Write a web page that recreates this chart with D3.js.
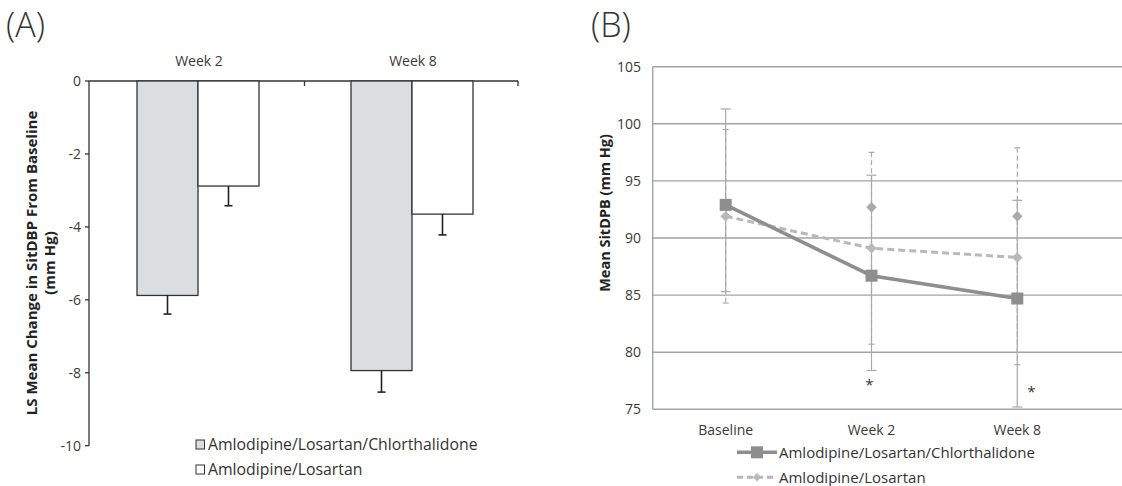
<!DOCTYPE html>
<html>
<head>
<meta charset="utf-8">
<script src="https://cdn.jsdelivr.net/npm/d3@7"></script>
<style>
    body { margin: 0; background: #fff; }
    svg { display: block; font-family: "Open Sans", "Lato", sans-serif; }
    .tick-label { font-size: 14px; fill: #3a3a3a; }
    .axis-title { font-size: 15px; font-weight: bold; fill: #222; }
    .legend-text { font-size: 15px; fill: #333; }
</style>
</head>
<body>
<div id="chart"></div>
<script>

// Panel A data: LS mean change in SitDBP
const barCategories = ["Week 2", "Week 8"];
const barSeries = ["Amlodipine/Losartan/Chlorthalidone", "Amlodipine/Losartan"];
const barMeanALC = [-5.88, -7.94];
const barErrALC = [0.51, 0.59];
const barMeanAL = [-2.88, -3.65];
const barErrAL = [0.54, 0.57];
const barTicks = [0, -2, -4, -6, -8, -10];

// Panel B data: mean SitDBP over time
const lineCategories = ["Baseline", "Week 2", "Week 8"];
const lineSeries = ["Amlodipine/Losartan/Chlorthalidone", "Amlodipine/Losartan"];
const meanALC = [92.9, 86.7, 84.7];
const lowALC = [85.3, 78.4, 75.2];
const highALC = [101.3, 95.5, 93.3];
const meanAL = [91.9, 89.1, 88.3];
const lowAL = [84.3, 80.7, 78.9];
const highAL = [99.5, 97.5, 97.9];
const strayAL = [null, 92.7, 91.9];   // extra diamond markers in the original
const starCategories = ["Week 2", "Week 8"];
const starValues = [77.6, 77.0];
const lineTicks = [75, 80, 85, 90, 95, 100, 105];

const svg = d3.select("#chart").append("svg")
    .attr("width", 1122)
    .attr("height", 486);

drawBarPanel();
drawLinePanel();


/* * * * * * * * * * * * * *
*       Panel A            *
* * * * * * * * * * * * * */

function drawBarPanel() {
    let g = svg.append("g");
    let axisColor = "#333";

    g.append("text").attr("x", 6).attr("y", 37)
        .style("font-size", "34px").style("font-weight", 300).attr("fill", "#333")
        .text("(A)");

    let y = d3.scaleLinear().domain([-10, 0]).range([445.7, 81]);
    let x0 = d3.scaleBand().domain(barCategories).range([91, 519])
        .paddingInner(0.43).paddingOuter(0.215);
    let x1 = d3.scaleBand().domain(barSeries).range([0, x0.bandwidth()]);

    // axes lines
    g.append("line").attr("x1", 89).attr("x2", 89).attr("y1", y(0)).attr("y2", y(-10))
        .attr("stroke", axisColor).attr("stroke-width", 1.3);
    g.append("line").attr("x1", 89).attr("x2", 518).attr("y1", y(0)).attr("y2", y(0))
        .attr("stroke", axisColor).attr("stroke-width", 1.3);

    // category separators on the top axis
    let sepX = [x0.range()[0] + x0.step() - 0.5, x0.range()[1] - 1];
    sepX.forEach(sx => {
        g.append("line").attr("x1", sx).attr("x2", sx).attr("y1", y(0)).attr("y2", y(0) + 5)
            .attr("stroke", axisColor).attr("stroke-width", 1.3);
    });

    barTicks.forEach(t => {
        g.append("line").attr("x1", 85).attr("x2", 89).attr("y1", y(t)).attr("y2", y(t))
            .attr("stroke", axisColor).attr("stroke-width", 1.3);
        g.append("text").attr("class", "tick-label")
            .attr("x", 81).attr("y", y(t)).attr("dy", "0.35em")
            .attr("text-anchor", "end").text(t);
    });

    barCategories.forEach(c => {
        g.append("text").attr("class", "tick-label")
            .attr("x", x0(c) + x0.bandwidth() / 2 + 1).attr("y", 66)
            .attr("text-anchor", "middle").text(c);
    });

    let bars = [
        {series: barSeries[0], means: barMeanALC, errs: barErrALC, fill: "#dcdddf"},
        {series: barSeries[1], means: barMeanAL, errs: barErrAL, fill: "#ffffff"}
    ];

    bars.forEach(s => {
        barCategories.forEach((c, i) => {
            let bx = x0(c) + x1(s.series);
            let cx = bx + x1.bandwidth() / 2;
            g.append("rect")
                .attr("x", bx).attr("y", y(0))
                .attr("width", x1.bandwidth()).attr("height", y(s.means[i]) - y(0))
                .attr("fill", s.fill).attr("stroke", axisColor).attr("stroke-width", 1.3);
            let lo = s.means[i] - s.errs[i];
            g.append("line").attr("x1", cx).attr("x2", cx)
                .attr("y1", y(s.means[i])).attr("y2", y(lo))
                .attr("stroke", "#222").attr("stroke-width", 1.6);
            g.append("line").attr("x1", cx - 4).attr("x2", cx + 4)
                .attr("y1", y(lo)).attr("y2", y(lo))
                .attr("stroke", "#222").attr("stroke-width", 1.6);
        });
    });

    // y axis title
    g.append("text").attr("class", "axis-title")
        .attr("transform", "translate(32,263) rotate(-90)")
        .attr("text-anchor", "middle").attr("dy", "0.35em")
        .text("LS Mean Change in SitDBP From Baseline");
    g.append("text").attr("class", "axis-title")
        .attr("transform", "translate(50,263) rotate(-90)")
        .attr("text-anchor", "middle").attr("dy", "0.35em")
        .text("(mm Hg)");

    // legend
    let leg = g.append("g").attr("transform", "translate(196,440)");
    bars.forEach((s, i) => {
        leg.append("rect").attr("x", 0).attr("y", i * 25)
            .attr("width", 8.5).attr("height", 9)
            .attr("fill", s.fill).attr("stroke", "#333").attr("stroke-width", 1);
        leg.append("text").attr("class", "legend-text")
            .style("font-size", "15.8px")
            .attr("x", 12).attr("y", i * 25 + 10).text(s.series);
    });
}


/* * * * * * * * * * * * * *
*       Panel B            *
* * * * * * * * * * * * * */

function drawLinePanel() {
    let g = svg.append("g");
    let left = 652.7, right = 1122;
    let gridColor = "#a3a3a3";

    g.append("text").attr("x", 591).attr("y", 37)
        .style("font-size", "34px").style("font-weight", 300).attr("fill", "#333")
        .text("(B)");

    let y = d3.scaleLinear().domain([75, 105]).range([409.3, 66.7]);
    let x = d3.scalePoint().domain(lineCategories).range([725.7, 1017.3]);

    // gridlines and frame
    lineTicks.forEach(t => {
        g.append("line").attr("x1", left).attr("x2", right).attr("y1", y(t)).attr("y2", y(t))
            .attr("stroke", gridColor).attr("stroke-width", 1.4);
        g.append("text").attr("class", "tick-label")
            .attr("x", 641).attr("y", y(t)).attr("dy", "0.35em")
            .attr("text-anchor", "end").text(t);
    });
    g.append("line").attr("x1", left).attr("x2", left).attr("y1", y(105)).attr("y2", y(75))
        .attr("stroke", gridColor).attr("stroke-width", 1.4);

    lineCategories.forEach(c => {
        g.append("text").attr("class", "tick-label")
            .attr("x", x(c)).attr("y", 435)
            .attr("text-anchor", "middle").text(c);
    });

    let series = [
        {name: lineSeries[1], mean: meanAL, low: lowAL, high: highAL,
            color: "#b9b9b9", dash: "7,4", width: 3, capW: 3, marker: "diamond"},
        {name: lineSeries[0], mean: meanALC, low: lowALC, high: highALC,
            color: "#8e8e8f", dash: null, width: 3.6, capW: 5, marker: "square"}
    ];

    // error bars
    series.forEach(s => {
        lineCategories.forEach((c, i) => {
            let cx = x(c);
            g.append("line").attr("x1", cx).attr("x2", cx)
                .attr("y1", y(s.high[i])).attr("y2", y(s.low[i]))
                .attr("stroke", "#a9a9a9").attr("stroke-width", 1.2)
                .attr("stroke-dasharray", s.dash ? "5,3" : null);
            [s.high[i], s.low[i]].forEach(v => {
                g.append("line").attr("x1", cx - s.capW).attr("x2", cx + s.capW)
                    .attr("y1", y(v)).attr("y2", y(v))
                    .attr("stroke", "#a9a9a9").attr("stroke-width", 1.2);
            });
        });
    });

    let line = d3.line()
        .x((d, i) => x(lineCategories[i]))
        .y(d => y(d));

    let diamond = d3.symbol().type(d3.symbolDiamond2).size(70);

    series.forEach(s => {
        g.append("path").datum(s.mean)
            .attr("d", line)
            .attr("fill", "none")
            .attr("stroke", s.color)
            .attr("stroke-width", s.width)
            .attr("stroke-dasharray", s.dash);
        s.mean.forEach((v, i) => {
            let cx = x(lineCategories[i]);
            if (s.marker === "square") {
                g.append("rect").attr("x", cx - 6).attr("y", y(v) - 6)
                    .attr("width", 12).attr("height", 12).attr("fill", s.color);
            } else {
                g.append("path").attr("d", diamond)
                    .attr("transform", `translate(${cx},${y(v)})`)
                    .attr("fill", s.color);
            }
        });
    });

    strayAL.forEach((v, i) => {
        if (v === null) return;
        g.append("path").attr("d", diamond)
            .attr("transform", `translate(${x(lineCategories[i])},${y(v)})`)
            .attr("fill", "#a9a9a9");
    });

    // significance markers
    let starDx = [-2, 14];
    starCategories.forEach((c, i) => {
        g.append("text").attr("x", x(c) + starDx[i]).attr("y", y(starValues[i]))
            .attr("dy", "0.7em").attr("text-anchor", "middle")
            .style("font-size", "15px").attr("fill", "#333").text("*");
    });

    // y axis title
    g.append("text").attr("class", "axis-title")
        .style("font-size", "14.5px")
        .attr("transform", "translate(605,213) rotate(-90)")
        .attr("text-anchor", "middle").attr("dy", "0.35em")
        .text("Mean SitDPB (mm Hg)");

    // legend
    let legend = [series[1], series[0]];
    legend.forEach((s, i) => {
        let ly = 452.3 + i * 25;
        g.append("line").attr("x1", 737).attr("x2", 777).attr("y1", ly).attr("y2", ly)
            .attr("stroke", s.color).attr("stroke-width", s.width)
            .attr("stroke-dasharray", s.dash ? "6,4" : null);
        if (s.marker === "square") {
            g.append("rect").attr("x", 751).attr("y", ly - 6)
                .attr("width", 12).attr("height", 12).attr("fill", s.color);
        } else {
            g.append("path").attr("d", d3.symbol().type(d3.symbolDiamond2).size(45))
                .attr("transform", `translate(757,${ly})`).attr("fill", s.color);
        }
        g.append("text").attr("class", "legend-text")
            .attr("x", 779).attr("y", ly + 5.5).text(s.name);
    });
}
</script>
</body>
</html>
